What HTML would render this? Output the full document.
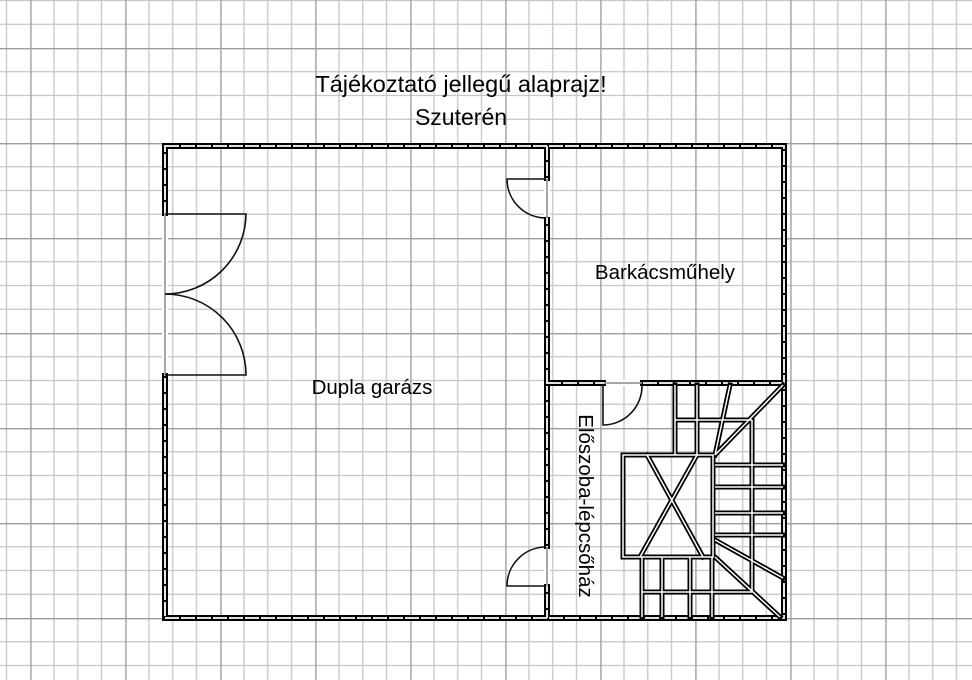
<!DOCTYPE html>
<html><head><meta charset="utf-8"><style>
html,body{margin:0;padding:0;background:#fff;}
svg{display:block;}
text{font-family:"Liberation Sans",sans-serif;fill:#000;}
</style></head><body>
<svg width="972" height="680" viewBox="0 0 972 680" xmlns="http://www.w3.org/2000/svg">
<defs>
<pattern id="g" x="30.25" y="48" width="95" height="95" patternUnits="userSpaceOnUse">
<path d="M23.75 0V95M47.5 0V95M71.25 0V95M0 23.75H95M0 47.5H95M0 71.25H95" stroke="#c6c6c6" stroke-width="1.3" fill="none"/>
<path d="M0.5 0V95M0 0.5H95" stroke="#9c9c9c" stroke-width="1.7" fill="none"/>
</pattern>
</defs>
<rect width="972" height="680" fill="#fff"/>
<rect width="972" height="680" fill="url(#g)"/>

<text x="461" y="92" font-size="23.5" text-anchor="middle">Tájékoztató jellegű alaprajz!</text>
<text x="461" y="125" font-size="23" text-anchor="middle">Szuterén</text>

<g fill="none">
<path d="M165 146H784V618H165Z M547 146V618 M547 383H784" stroke="#000" stroke-width="6"/>
<path d="M165 146H784V618H165Z M547 146V618 M547 383H784" stroke="#fff" stroke-width="1.8" stroke-dasharray="14 2"/>
</g>
<g stroke="#fff" stroke-width="6">
<line x1="165" y1="216" x2="165" y2="373"/>
<line x1="547" y1="181" x2="547" y2="217"/>
<line x1="547" y1="549" x2="547" y2="584"/>
<line x1="606" y1="383" x2="640" y2="383"/>
</g>
<g stroke="#888" stroke-width="1.5">
<line x1="165" y1="214" x2="165" y2="375"/>
<line x1="547" y1="179" x2="547" y2="218"/>
<line x1="547" y1="547" x2="547" y2="586"/>
<line x1="604" y1="383" x2="642" y2="383"/>
</g>
<g fill="none" stroke="#111" stroke-width="1.6">
<path d="M165 214H246A81 81 0 0 1 165 294"/>
<path d="M165 375H246A81 81 0 0 0 165 294"/>
<path d="M546 179H507A39 39 0 0 0 546 218"/>
<path d="M546 586H507A39 39 0 0 1 546 547"/>
<path d="M603 385V425A39 39 0 0 0 642 385"/>
</g>
<g fill="none" stroke-linecap="square">
<path d="M623 455H713V557H623Z M647 455L703 557 M697 455L640 557
M675 385V455 M697 385V455 M730 385L715 455 M675 420H752 M752 420V592 M783 385L715 455
M715 465H783 M715 487H783 M715 513H783 M715 535H783 M715 540L783 578
M642 557V617 M662 557V617 M690 557V617 M712 557V617 M642 592H752 M715 557L780 617" stroke="#000" stroke-width="5"/>
<path d="M623 455H713V557H623Z M647 455L703 557 M697 455L640 557
M675 385V455 M697 385V455 M730 385L715 455 M675 420H752 M752 420V592 M783 385L715 455
M715 465H783 M715 487H783 M715 513H783 M715 535H783 M715 540L783 578
M642 557V617 M662 557V617 M690 557V617 M712 557V617 M642 592H752 M715 557L780 617" stroke="#fff" stroke-width="1.5" stroke-linecap="butt"/>
</g>

<text x="665" y="279" font-size="20.5" text-anchor="middle">Barkácsműhely</text>
<text x="372" y="394" font-size="20.5" text-anchor="middle">Dupla garázs</text>
<text x="0" y="0" font-size="20.5" text-anchor="middle" transform="translate(579 506) rotate(90)">Előszoba-lépcsőház</text>
</svg>
</body></html>
